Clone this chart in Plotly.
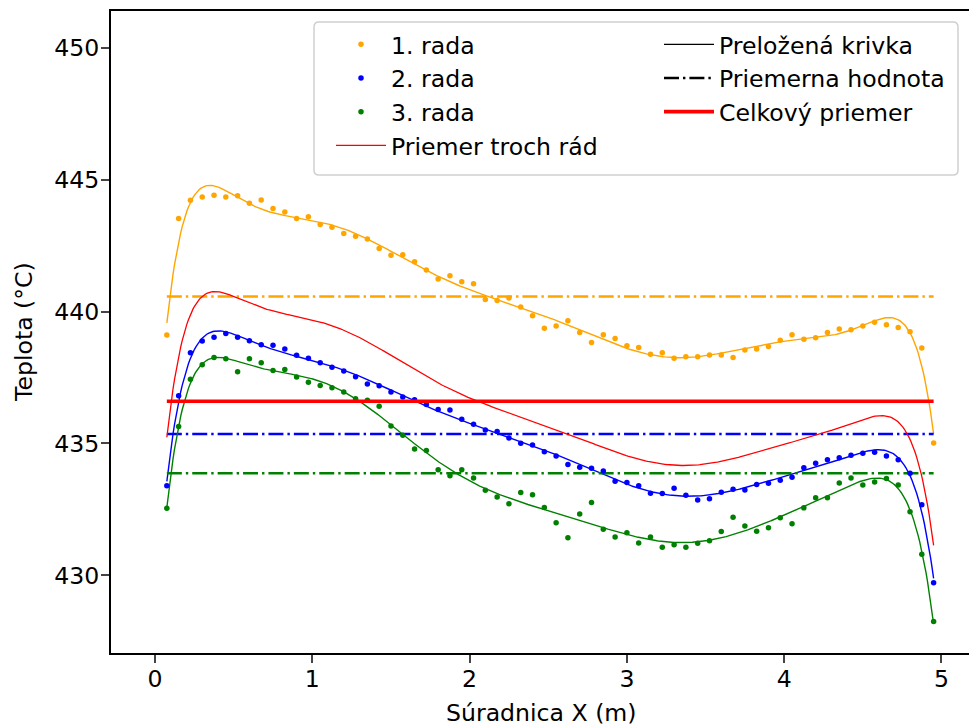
import numpy as np
import plotly.graph_objects as go

# Measurement positions along the bar (m)
x_m = [0.075, 0.15, 0.225, 0.3, 0.375, 0.45, 0.525, 0.6, 0.675, 0.75,
       0.825, 0.9, 0.975, 1.05, 1.125, 1.2, 1.275, 1.35, 1.425, 1.5,
       1.575, 1.65, 1.725, 1.8, 1.875, 1.95, 2.025, 2.1, 2.175, 2.25,
       2.325, 2.4, 2.475, 2.55, 2.625, 2.7, 2.775, 2.85, 2.925, 3.0,
       3.075, 3.15, 3.225, 3.3, 3.375, 3.45, 3.525, 3.6, 3.675, 3.75,
       3.825, 3.9, 3.975, 4.05, 4.125, 4.2, 4.275, 4.35, 4.425, 4.5,
       4.575, 4.65, 4.725, 4.8, 4.875, 4.95]

# Measured temperatures (°C), one list per row of sensors
rada1 = [439.11, 443.53, 444.22, 444.34, 444.41, 444.34, 444.39, 444.10, 444.23, 443.91,
         443.77, 443.53, 443.59, 443.30, 443.19, 442.96, 442.85, 442.75, 442.39, 442.13,
         442.15, 441.89, 441.57, 441.23, 441.36, 441.13, 441.05, 440.46, 440.42, 440.51,
         440.17, 439.84, 439.37, 439.45, 439.65, 439.21, 438.83, 439.12, 438.98, 438.70,
         438.64, 438.38, 438.44, 438.23, 438.29, 438.29, 438.35, 438.35, 438.26, 438.54,
         438.58, 438.68, 438.91, 439.12, 438.95, 439.01, 439.21, 439.34, 439.31, 439.45,
         439.59, 439.50, 439.40, 439.23, 438.62, 435.02]
rada2 = [433.40, 436.81, 438.44, 438.88, 439.03, 439.17, 439.03, 438.89, 438.74, 438.72,
         438.58, 438.34, 438.23, 438.06, 437.89, 437.75, 437.53, 437.25, 437.19, 436.95,
         436.76, 436.66, 436.48, 436.29, 436.27, 435.92, 435.73, 435.51, 435.45, 435.21,
         435.01, 434.94, 434.69, 434.53, 434.20, 434.10, 434.06, 433.96, 433.57, 433.52,
         433.40, 433.11, 433.10, 433.30, 433.04, 432.86, 432.91, 433.15, 433.27, 433.24,
         433.45, 433.49, 433.61, 433.72, 434.08, 434.25, 434.38, 434.46, 434.55, 434.63,
         434.67, 434.53, 434.38, 433.87, 432.68, 429.72]
rada3 = [432.55, 435.64, 437.43, 437.98, 438.26, 438.21, 437.72, 438.21, 438.06, 437.77,
         437.80, 437.52, 437.32, 437.20, 437.11, 436.95, 436.70, 436.64, 436.41, 435.66,
         435.31, 434.79, 434.73, 434.00, 433.78, 434.00, 433.69, 433.23, 432.97, 432.72,
         433.14, 433.06, 432.57, 432.00, 431.43, 432.33, 432.76, 431.75, 431.46, 431.62,
         431.23, 431.46, 431.07, 431.16, 431.07, 431.22, 431.31, 431.66, 432.20, 431.87,
         431.67, 431.81, 432.19, 431.96, 432.56, 432.94, 432.94, 433.50, 433.69, 433.43,
         433.54, 433.67, 433.43, 432.41, 430.80, 428.25]

series_names = ["1. rada", "2. rada", "3. rada"]
series_colors = ["#FFA500", "#0000FF", "#008000"]
x_ticks = [0, 1, 2, 3, 4, 5]
y_ticks = [430, 435, 440, 445, 450]

FIT_DEGREE = 10
FONT = dict(family="DejaVu Sans", size=23.6, color="black")

x = np.array(x_m)
x_fine = np.linspace(x.min(), x.max(), 500)
rows = [np.array(r) for r in (rada1, rada2, rada3)]

# Polynomial fit of each row and the mean of the three fitted curves
fits = [np.polynomial.Polynomial.fit(x, r, FIT_DEGREE)(x_fine) for r in rows]
avg_curve = np.mean(fits, axis=0)
row_means = [float(r.mean()) for r in rows]
total_mean = float(np.mean(row_means))

fig = go.Figure()
dashdot = "15px,4px,2.4px,4px"

for name, color, r, fit, m in zip(series_names, series_colors, rows, fits, row_means):
    fig.add_trace(go.Scatter(x=x_fine, y=fit, mode="lines", showlegend=False,
                             line=dict(color=color, width=1.4), hoverinfo="skip"))
    fig.add_trace(go.Scatter(x=[x.min(), x.max()], y=[m, m], mode="lines", showlegend=False,
                             line=dict(color=color, width=2.4, dash=dashdot)))

fig.add_trace(go.Scatter(x=x_fine, y=avg_curve, mode="lines", name="Priemer troch rád",
                         line=dict(color="#FF0000", width=1.3), legend="legend", legendrank=4))

for i, (name, color, r) in enumerate(zip(series_names, series_colors, rows)):
    fig.add_trace(go.Scatter(x=x, y=r, mode="markers", name=name, legend="legend",
                             legendrank=i + 1,
                             marker=dict(color=color, size=5.5, line=dict(width=0))))

# Legend-only keys for the line styles
fig.add_trace(go.Scatter(x=[None], y=[None], mode="lines", name="Preložená krivka",
                         line=dict(color="black", width=1.4), legend="legend2", legendrank=1))
fig.add_trace(go.Scatter(x=[None], y=[None], mode="lines", name="Priemerna hodnota",
                         line=dict(color="black", width=2.4, dash=dashdot),
                         legend="legend2", legendrank=2))
fig.add_trace(go.Scatter(x=[x.min(), x.max()], y=[total_mean, total_mean], mode="lines",
                         name="Celkový priemer", line=dict(color="#FF0000", width=3.7),
                         legend="legend2", legendrank=3))

W, H = 970, 726
L, R, T, B = 111, 1, 11, 73
pw, ph = W - L - R, H - T - B


def px_x(p):
    return (p - L) / pw


def px_y(p):
    return (H - B - p) / ph


# Legend frame with rounded corners
x0, x1, y0, y1 = px_x(314), px_x(958), px_y(22), px_y(175)
rx, ry = 5 / pw, 5 / ph
frame = (f"M{x0 + rx},{y0} L{x1 - rx},{y0} Q{x1},{y0} {x1},{y0 - ry} "
         f"L{x1},{y1 + ry} Q{x1},{y1} {x1 - rx},{y1} L{x0 + rx},{y1} "
         f"Q{x0},{y1} {x0},{y1 + ry} L{x0},{y0 - ry} Q{x0},{y0} {x0 + rx},{y0} Z")

legend_common = dict(font=FONT, bgcolor="rgba(0,0,0,0)", borderwidth=0,
                     itemwidth=50, tracegroupgap=0, traceorder="normal",
                     xanchor="left", yanchor="top", itemclick=False)

fig.update_layout(
    width=W, height=H,
    margin=dict(l=L, r=R, t=T, b=B),
    paper_bgcolor="white", plot_bgcolor="white",
    font=FONT,
    showlegend=True,
    legend=dict(x=px_x(331), y=px_y(22.5), **legend_common),
    legend2=dict(x=px_x(659), y=px_y(22.5), **legend_common),
    shapes=[dict(type="path", path=frame, xref="paper", yref="paper",
                 fillcolor="rgba(255,255,255,0.8)", line=dict(color="#d0d0d0", width=1.5),
                 layer="above")],
    xaxis=dict(range=[-0.28, 5.175], tickvals=x_ticks, ticks="outside", ticklen=8,
               tickwidth=1.9, showline=True, linecolor="black", linewidth=1.9,
               mirror=True, showgrid=False, zeroline=False, tickfont=FONT,
               ticklabelstandoff=-4),
    yaxis=dict(range=[427.06, 451.39], tickvals=y_ticks, ticks="outside", ticklen=8,
               tickwidth=1.9, showline=True, linecolor="black", linewidth=1.9,
               mirror=False, showgrid=False, zeroline=False, tickfont=FONT,
               ticklabelstandoff=-3),
    annotations=[
        dict(text="Súradnica X (m)", xref="paper", yref="paper", x=px_x(541.6),
             y=px_y(713), xanchor="center", yanchor="middle", showarrow=False, font=FONT),
        dict(text="Teplota (°C)", xref="paper", yref="paper", x=px_x(24), y=px_y(332),
             xanchor="center", yanchor="middle", textangle=-90, showarrow=False, font=FONT),
    ],
)

fig.write_html("out.html")
